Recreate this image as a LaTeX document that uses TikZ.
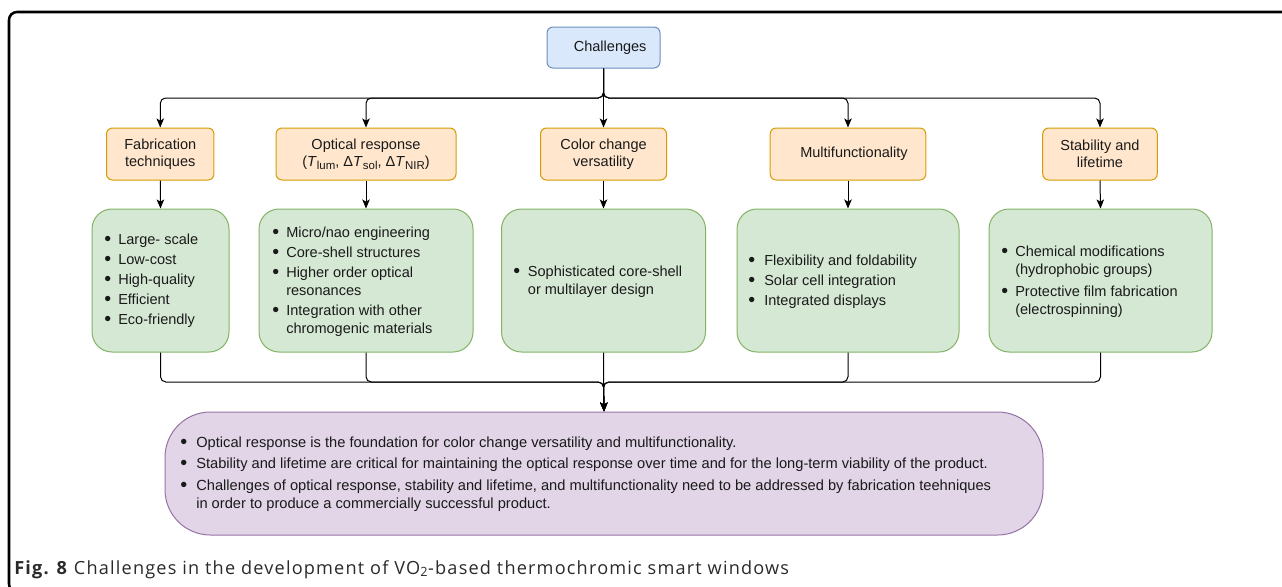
\documentclass[tikz,border=0pt]{standalone}
\usepackage{fontspec}
\setmainfont{Liberation Sans}
\newfontfamily\capfont[LetterSpace=6.5]{Open Sans}
\usetikzlibrary{arrows.meta}
\definecolor{bluefill}{HTML}{DAE8FC}
\definecolor{blueline}{HTML}{6C8EBF}
\definecolor{orangefill}{HTML}{FFE6CC}
\definecolor{orangeline}{HTML}{D79B00}
\definecolor{greenfill}{HTML}{D5E8D4}
\definecolor{greenline}{HTML}{82B366}
\definecolor{purplefill}{HTML}{E1D5E7}
\definecolor{purpleline}{HTML}{9673A6}
\definecolor{txt}{HTML}{1A1A1A}
\definecolor{captxt}{HTML}{2A2A2A}
\newcommand\bdot{\raisebox{-0.12ex}{\scalebox{1.35}{\textbullet}}}
\newcommand\bitem[2][10.5pt]{\par\hangindent=#1\hangafter=1\noindent\makebox[#1][l]{\bdot}#2}
\newcommand\blist[3]{\parbox{#1}{\fontsize{10.9}{13.5}\selectfont\setlength\parskip{#2}\raggedright #3}}
\newcommand\subs[1]{\raisebox{-0.4ex}{\fontsize{8.6}{10}\selectfont #1}}
\begin{document}
\begin{tikzpicture}[x=0.75pt,y=-0.75pt,
  every node/.style={text=txt},
  headbox/.style={draw=blueline,fill=bluefill,rounded corners=4.5pt,line width=0.75pt,
    minimum width=84.75pt,minimum height=30.75pt,inner sep=0pt,font=\fontsize{10.9}{13}\selectfont},
  catbox/.style={draw=orangeline,fill=orangefill,rounded corners=4.5pt,line width=0.75pt,
    minimum height=39pt,inner sep=0pt,align=center,font=\fontsize{10.9}{13}\selectfont},
  detbox/.style={draw=greenline,fill=greenfill,rounded corners=15pt,line width=0.75pt,
    minimum height=107.25pt,inner sep=0pt},
  sumbox/.style={draw=purpleline,fill=purplefill,rounded corners=34pt,line width=0.75pt,
    minimum width=658.5pt,minimum height=92.25pt,inner sep=0pt},
  listtext/.style={anchor=west,inner sep=0pt,align=left},
  conn/.style={draw=black,line width=0.75pt,rounded corners=4pt},
  arr/.style={conn,-{Stealth[length=6.75pt,width=5.6pt,inset=1.6pt]}},
  frame/.style={draw=black,line width=1.9pt,rounded corners=6pt}]
\useasboundingbox (0,0) rectangle (1282,586);
\begin{scope}
\clip (0,0) rectangle (1282,586);
\draw[frame] (9,12) rectangle (1300,592);
\end{scope}

% top node
\node[headbox] (ch) at (603.5,47.5) {\hspace*{10pt}Challenges};

% category boxes
\node[catbox,minimum width=80.6pt] (fab) at (160.25,154) {Fabrication\\techniques};
\node[catbox,minimum width=135pt] (opt) at (366,154) {Optical response\\(\textit{T}\subs{lum}, Δ\textit{T}\subs{sol}, Δ\textit{T}\subs{NIR})};
\node[catbox,minimum width=94.5pt] (col) at (603.5,154) {Color change\\versatility};
\node[catbox,minimum width=116.7pt] (mul) at (848,154) {\hspace*{9pt}Multifunctionality};
\node[catbox,minimum width=85.9pt] (stab) at (1100,154) {Stability and\\lifetime};

% detail boxes
\node[detbox,minimum width=102.75pt] (g1) at (160.5,280.5) {};
\node[detbox,minimum width=160.5pt] (g2) at (366,280.5) {};
\node[detbox,minimum width=153pt] (g3) at (603.5,280.5) {};
\node[detbox,minimum width=166.5pt] (g4) at (848,280.5) {};
\node[detbox,minimum width=167.25pt] (g5) at (1100.5,280.5) {};

\node[listtext] (t1) at (104,281) {\blist{90pt}{1.5pt}{%
  \bitem{Large- scale}\bitem{Low-cost}\bitem{High-quality}\bitem{Efficient}\bitem{Eco-friendly}}};
\node[listtext] (t2) at (272,281.5) {\blist{140pt}{1.5pt}{%
  \bitem{Micro/nao engineering}\bitem{Core-shell structures}\bitem{Higher order optical resonances}\bitem{Integration with other chromogenic materials}}};
\node[listtext] (t3) at (513,282) {\blist{140pt}{1.5pt}{%
  \bitem[11pt]{Sophisticated core-shell\newline or multilayer design}}};
\node[listtext] (t4) at (748,282) {\blist{150pt}{1.5pt}{%
  \bitem[12pt]{Flexibility and foldability}\bitem[12pt]{Solar cell integration}\bitem[12pt]{Integrated displays}}};
\node[listtext] (t5) at (1001,282) {\blist{150pt}{3pt}{%
  \bitem{Chemical modifications (hydrophobic groups)}\bitem{Protective film fabrication (electrospinning)}}};

% summary box
\node[sumbox] (sum) at (604,473.5) {};
\node[listtext] (ts) at (180,474) {\parbox{640pt}{\fontsize{11}{13.5}\selectfont\setlength\parskip{2.5pt}\raggedright
  \bitem[12pt]{Optical response is the foundation for color change versatility and multifunctionality.}%
  \bitem[12pt]{Stability and lifetime are critical for maintaining the optical response over time and for the long-term viability of the product.}%
  \bitem[12pt]{Challenges of optical response, stability and lifetime, and multifunctionality need to be addressed by fabrication teehniques\newline in order to produce a commercially successful product.}}};

% connectors
\coordinate (topbus) at (603.5,98);
\coordinate (botbus) at (603.5,382);
\foreach \n in {fab,opt,col,mul,stab}{
  \draw[arr] (ch.south) -- (topbus) -- (\n.north |- topbus) -- (\n.north);
}
\draw[arr] (fab.south) -- (g1.north);
\draw[arr] (opt.south) -- (g2.north);
\draw[arr] (col.south) -- (g3.north);
\draw[arr] (mul.south) -- (g4.north);
\draw[arr] (stab.south) -- (g5.north);
\foreach \n in {g1,g2,g3,g4,g5}{
  \draw[arr] (\n.south) -- (\n.south |- botbus) -- (botbus) -- (sum.north);
}

% caption
\node[anchor=base west,inner sep=0pt,text=captxt] (cap) at (14,574) {\capfont\fontsize{13.6}{16}\selectfont\textbf{Fig. 8} Challenges in the development of VO\textsubscript{2}-based thermochromic smart windows};
\end{tikzpicture}
\end{document}
